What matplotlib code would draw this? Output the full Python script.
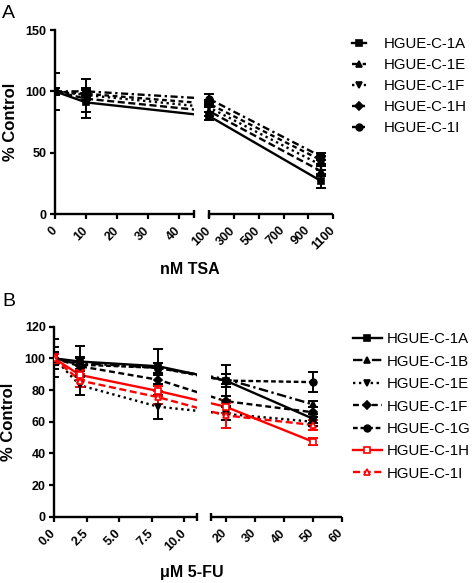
import numpy as np
import matplotlib
matplotlib.use("Agg")
import matplotlib.pyplot as plt
from matplotlib.lines import Line2D

plt.rcParams["font.family"] = ["Liberation Sans", "DejaVu Sans"]

# ---- panel A: TSA ----
tsa_doses = [0, 10, 100, 1000]
tsa_names = ["HGUE-C-1A", "HGUE-C-1E", "HGUE-C-1F", "HGUE-C-1H", "HGUE-C-1I"]
tsa_1a = [100, 91, 80, 27]
tsa_1e = [100, 94, 84, 35]
tsa_1f = [100, 97, 87, 40]
tsa_1h = [100, 98, 90, 44]
tsa_1i = [100, 100, 94, 47]
tsa_1a_err = [15, 8, 3, 6]
tsa_1e_err = [3, 16, 4, 4]
tsa_1f_err = [3, 4, 4, 4]
tsa_1h_err = [3, 3, 3, 3]
tsa_1i_err = [3, 3, 4, 3]
tsa_ticks = [0, 10, 20, 30, 40, 100, 300, 500, 700, 900, 1100]
tsa_yticks = [0, 50, 100, 150]

# ---- panel B: 5-FU ----
fu_doses = [0, 2, 8, 20, 50]
fu_names = ["HGUE-C-1A", "HGUE-C-1B", "HGUE-C-1E", "HGUE-C-1F",
            "HGUE-C-1G", "HGUE-C-1H", "HGUE-C-1I"]
fu_1a = [100, 98, 95, 86, 62]
fu_1b = [100, 97, 94, 87, 71]
fu_1e = [100, 83, 69.5, 65, 60]
fu_1f = [100, 95, 86.5, 73, 66]
fu_1g = [100, 96, 94, 86, 85]
fu_1h = [100, 89.5, 79.4, 69.5, 47.5]
fu_1i = [100, 86, 75.5, 64, 58]
fu_1a_err = [12, 10, 11, 10, 3]
fu_1b_err = [3, 4, 3, 3, 2]
fu_1e_err = [7, 6, 7.5, 4, 3]
fu_1f_err = [4, 3, 3, 3, 3]
fu_1g_err = [3, 4, 3, 4, 6.5]
fu_1h_err = [3, 3, 3, 4, 2]
fu_1i_err = [3, 4, 4, 8, 3]
fu_ticks = [0, 2.5, 5, 7.5, 10, 20, 30, 40, 50, 60]
fu_tick_labels = ["0.0", "2.5", "5.0", "7.5", "10.0", "20", "30", "40", "50", "60"]
fu_yticks = [0, 20, 40, 60, 80, 100, 120]


def seg_pos(x, left_max, right_min, gap, ratio):
    x = np.asarray(x, float)
    return np.where(x <= left_max, x, left_max + gap + (x - right_min) * ratio)


def draw_panel(ax, doses, series, errs, styles, brk, xmax, ticks, tick_labels, ylim, yticks):
    left_max, right_min, gap, ratio = brk
    pos = seg_pos(doses, *brk)
    end = float(seg_pos([xmax], *brk)[0])
    for vals, st in zip(series, styles):
        ax.plot(pos, vals, color=st["color"], ls=st["ls"], lw=1.7, zorder=2)
    ax.axvspan(left_max, left_max + gap, color="white", lw=0, zorder=2.5)
    for vals, err, st in zip(series, errs, styles):
        ax.errorbar(pos, vals, yerr=err, fmt="none", ecolor=st["color"],
                    elinewidth=1.4, capsize=3.5, capthick=1.4, zorder=3)
        ax.plot(pos, vals, ls="none", marker=st["marker"], color=st["color"],
                mfc=st["mfc"], mec=st["color"], ms=st["ms"], mew=1.2, zorder=4)
    ax.set_xlim(0, end)
    ax.set_ylim(*ylim)
    ax.set_yticks(yticks)
    ax.set_yticklabels([str(t) for t in yticks], fontsize=9, fontweight="bold")
    ax.set_xticks(seg_pos(ticks, *brk))
    ax.set_xticklabels(tick_labels, rotation=45, ha="right", va="center",
                       rotation_mode="anchor", fontsize=9, fontweight="bold")
    for s in ["top", "right", "bottom"]:
        ax.spines[s].set_visible(False)
    ax.spines["left"].set_linewidth(1.7)
    ax.tick_params(direction="out", length=3.5, width=1.6, pad=2.5)
    ax.tick_params(axis="x", pad=7)
    tr = ax.get_xaxis_transform()
    for a, b in [(0, left_max), (left_max + gap, end)]:
        ax.plot([a, b], [0, 0], color="black", lw=1.7, transform=tr,
                clip_on=False, zorder=5, solid_capstyle="butt")
    ax.plot([left_max, left_max + gap], [0, 0], ls="none", marker="|", ms=6,
            mew=1.7, color="black", transform=tr, clip_on=False, zorder=5)


fig = plt.figure(figsize=(4.72, 5.83), dpi=100)

# panel A
axA = fig.add_axes([0.1165, 0.6329, 0.5897, 0.3156])
tsa_styles = [
    dict(color="black", ls="-", marker="s", mfc="black", ms=4.8),
    dict(color="black", ls=(0, (3, 1.5)), marker="^", mfc="black", ms=4.8),
    dict(color="black", ls=(0, (1, 1.5)), marker="v", mfc="black", ms=4.8),
    dict(color="black", ls=(0, (2, 1.5)), marker="D", mfc="black", ms=4.4),
    dict(color="black", ls=(0, (3, 1.5, 1, 1.5)), marker="o", mfc="black", ms=4.8),
]
draw_panel(axA, tsa_doses, [tsa_1a, tsa_1e, tsa_1f, tsa_1h, tsa_1i],
           [tsa_1a_err, tsa_1e_err, tsa_1f_err, tsa_1h_err, tsa_1i_err],
           tsa_styles, (45, 100, 4.645, 0.0402), 1100,
           tsa_ticks, [str(t) for t in tsa_ticks], (0, 150), tsa_yticks)

# panel B
axB = fig.add_axes([0.1144, 0.1135, 0.6095, 0.3262])
fu_styles = [
    dict(color="black", ls="-", marker="s", mfc="black", ms=4.8),
    dict(color="black", ls=(0, (4, 1.5, 1, 1.5)), marker="^", mfc="black", ms=4.8),
    dict(color="black", ls=(0, (1, 1.5)), marker="v", mfc="black", ms=4.8),
    dict(color="black", ls=(0, (2.5, 1.5)), marker="D", mfc="black", ms=4.4),
    dict(color="black", ls=(0, (2, 1.2)), marker="o", mfc="black", ms=4.8),
    dict(color="red", ls="-", marker="s", mfc="white", ms=4.8),
    dict(color="red", ls=(0, (3, 1.5)), marker="^", mfc="white", ms=4.8),
]
draw_panel(axB, fu_doses, [fu_1a, fu_1b, fu_1e, fu_1f, fu_1g, fu_1h, fu_1i],
           [fu_1a_err, fu_1b_err, fu_1e_err, fu_1f_err, fu_1g_err, fu_1h_err, fu_1i_err],
           fu_styles, (11, 15, 1.06, 0.2231), 60,
           fu_ticks, fu_tick_labels, (0, 120), fu_yticks)


# legends
def handles(styles):
    return [Line2D([], [], color=s["color"], ls=s["ls"], lw=1.7, marker=s["marker"],
                   mfc=s["mfc"], mec=s["color"], ms=s["ms"], mew=1.2) for s in styles]


fig.legend(handles(tsa_styles), tsa_names, loc="upper left",
           bbox_to_anchor=(0.7458, 0.9366), frameon=False, fontsize=10.8,
           handlelength=0.9, handletextpad=1.2, labelspacing=0.47,
           borderpad=0, borderaxespad=0)
fig.legend(handles(fu_styles), fu_names, loc="upper left",
           bbox_to_anchor=(0.747, 0.430), frameon=False, fontsize=10.8,
           handlelength=1.95, handletextpad=0.35, labelspacing=0.56,
           borderpad=0, borderaxespad=0)

# labels
fig.text(0.0212, 0.7913, "% Control", rotation=90, ha="center", va="center",
         fontsize=12, fontweight="bold")
fig.text(0.017, 0.2767, "% Control", rotation=90, ha="center", va="center",
         fontsize=12, fontweight="bold")
fig.text(0.4015, 0.5369, "nM TSA", ha="center", va="center",
         fontsize=11.5, fontweight="bold")
fig.text(0.4068, 0.0172, "μM 5-FU", ha="center", va="center",
         fontsize=11.5, fontweight="bold")
fig.text(0.004, 0.992, "A", ha="left", va="top", fontsize=14)
fig.text(0.004, 0.4974, "B", ha="left", va="top", fontsize=14)

fig.savefig("out.png", dpi=100)
